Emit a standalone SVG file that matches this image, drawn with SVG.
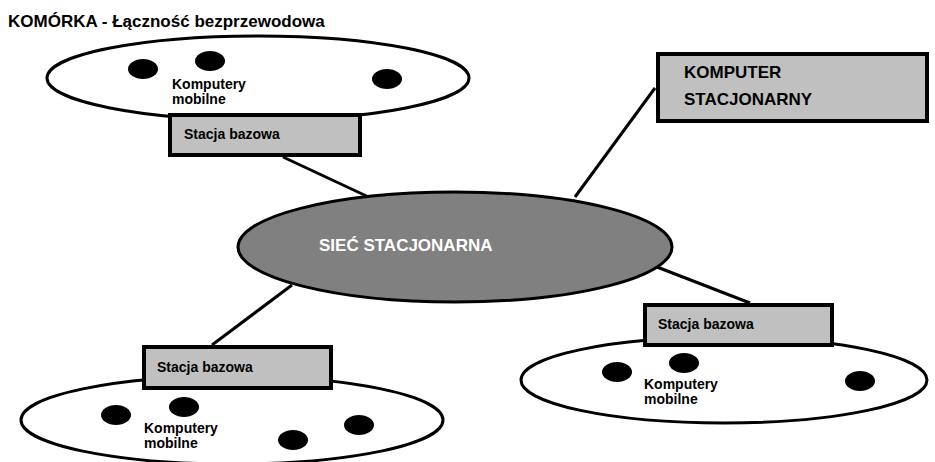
<svg xmlns="http://www.w3.org/2000/svg" width="935" height="462" viewBox="0 0 935 462">
  <style>
    text { font-family: "Liberation Sans", Arial, sans-serif; font-weight: bold; fill: #000; }
    .title { font-size: 17px; }
    .lbl { font-size: 14px; }
    .big { font-size: 17px; }
    .net-lbl { font-size: 17px; fill: #fff; }
    .cell { fill: #fff; stroke: #000; stroke-width: 3; }
    .dev { fill: #000; }
    .station { fill: #c0c0c0; stroke: #000; stroke-width: 4; }
    .link { stroke: #000; stroke-width: 3; fill: none; }
  </style>

  <text class="title" x="8" y="27">KOMÓRKA - Łączność bezprzewodowa</text>

  <!-- links between the fixed network and its stations -->
  <g id="connectors">
    <line class="link" x1="283" y1="157" x2="375" y2="200"/>
    <line class="link" x1="655" y1="88" x2="575" y2="197"/>
    <line class="link" x1="657" y1="267" x2="750" y2="303"/>
    <line class="link" x1="212" y1="345" x2="292" y2="285"/>
  </g>

  <!-- wireless cell, top left -->
  <g id="cell-top-left">
    <ellipse class="cell" cx="258" cy="78" rx="211" ry="42"/>
    <ellipse class="dev" cx="143" cy="69" rx="15" ry="10"/>
    <ellipse class="dev" cx="210" cy="61" rx="15" ry="10"/>
    <ellipse class="dev" cx="387" cy="79" rx="15" ry="10"/>
    <text class="lbl" x="172" y="89">Komputery</text>
    <text class="lbl" x="172" y="104">mobilne</text>
  </g>
  <g id="station-top-left">
    <rect class="station" x="170" y="115" width="190" height="40"/>
    <text class="lbl" x="184" y="139">Stacja bazowa</text>
  </g>

  <!-- fixed network -->
  <g id="network">
    <ellipse cx="455" cy="247" rx="217" ry="55" fill="#808080" stroke="#000" stroke-width="3"/>
    <text class="net-lbl" x="319" y="251">SIEĆ STACJONARNA</text>
  </g>

  <!-- desktop computer -->
  <g id="desktop">
    <rect class="station" x="658" y="54" width="269" height="67"/>
    <text class="big" x="684" y="78">KOMPUTER</text>
    <text class="big" x="684" y="105">STACJONARNY</text>
  </g>

  <!-- wireless cell, bottom right -->
  <g id="cell-bottom-right">
    <ellipse class="cell" cx="724" cy="380" rx="203" ry="43"/>
    <ellipse class="dev" cx="617" cy="372" rx="15" ry="10"/>
    <ellipse class="dev" cx="684" cy="363" rx="15" ry="10"/>
    <ellipse class="dev" cx="860" cy="381" rx="15" ry="10"/>
    <text class="lbl" x="644" y="389">Komputery</text>
    <text class="lbl" x="644" y="404">mobilne</text>
  </g>
  <g id="station-bottom-right">
    <rect class="station" x="645" y="305" width="187" height="40"/>
    <text class="lbl" x="658" y="329">Stacja bazowa</text>
  </g>

  <!-- wireless cell, bottom left -->
  <g id="cell-bottom-left">
    <ellipse class="cell" cx="232" cy="420" rx="211" ry="44"/>
    <ellipse class="dev" cx="116" cy="415" rx="15" ry="10"/>
    <ellipse class="dev" cx="184" cy="407" rx="15" ry="10"/>
    <ellipse class="dev" cx="293" cy="440" rx="15" ry="10"/>
    <ellipse class="dev" cx="359" cy="425" rx="15" ry="10"/>
    <text class="lbl" x="144" y="433">Komputery</text>
    <text class="lbl" x="144" y="448">mobilne</text>
  </g>
  <g id="station-bottom-left">
    <rect class="station" x="144" y="347" width="187" height="41"/>
    <text class="lbl" x="157" y="372">Stacja bazowa</text>
  </g>
</svg>
